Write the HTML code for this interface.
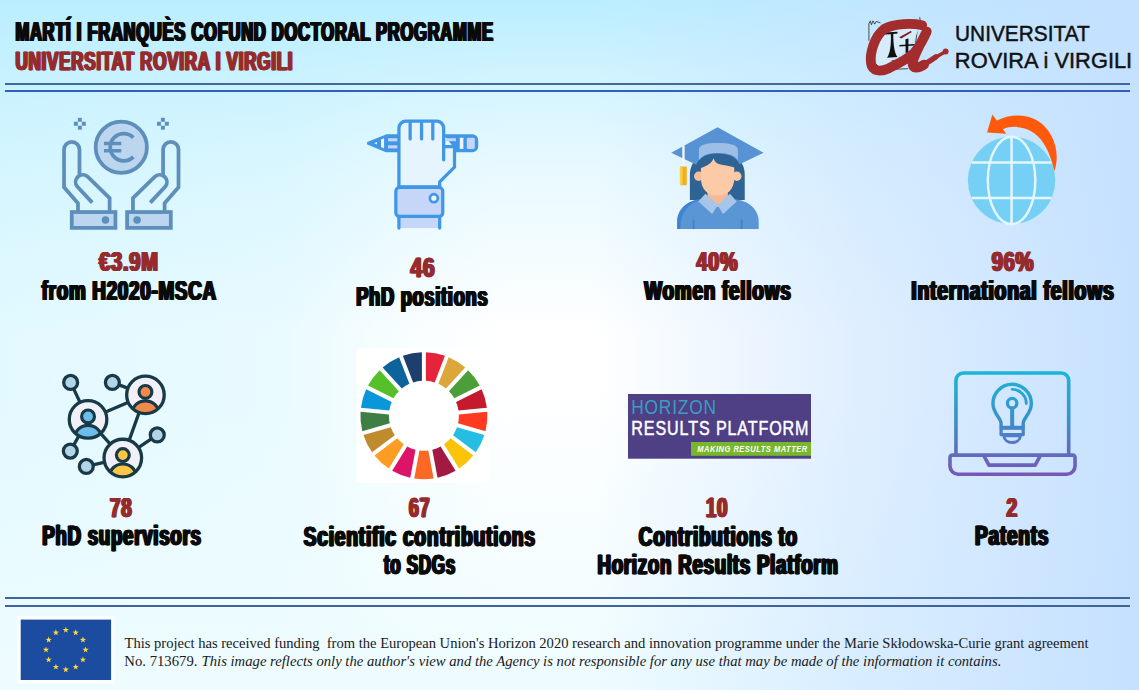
<!DOCTYPE html>
<html><head><meta charset="utf-8"><title>Martí i Franquès COFUND</title>
<style>
html,body{margin:0;padding:0;}
body{width:1139px;height:690px;overflow:hidden;font-family:"Liberation Sans",sans-serif;
background-color:#ffffff;
background-image:
 linear-gradient(to left, rgba(196,224,255,0.97) 0px, rgba(196,224,255,0.53) 284px, rgba(196,224,255,0) 545px),
 linear-gradient(to bottom, rgba(186,238,255,1) 0px, rgba(186,238,255,0.55) 104px, rgba(186,238,255,0.32) 172px, rgba(186,238,255,0) 334px),
 linear-gradient(to top, rgba(238,252,255,1) 0px, rgba(238,252,255,0) 300px),
 linear-gradient(to right, rgba(226,249,255,1) 0px, rgba(226,249,255,0.75) 282px, rgba(226,249,255,0.25) 400px, rgba(226,249,255,0) 500px);
}
svg{position:absolute;left:0;top:0;}
text{white-space:pre;}
</style></head><body>
<svg width="1139" height="690" viewBox="0 0 1139 690">
<rect x="5" y="83" width="1125" height="2" fill="#3f68a4"/>
<rect x="5" y="90" width="1125" height="2" fill="#2f60c0"/>
<rect x="5" y="597" width="1125" height="2" fill="#41639b"/>
<rect x="5" y="605" width="1125" height="2" fill="#41639b"/>
<g transform="translate(15.43,40.80) scale(0.6173,1)" fill="#0a0a0a" stroke="#0a0a0a" stroke-width="0.25" font-family="Liberation Sans, sans-serif" font-weight="bold" font-size="26.74" letter-spacing="1.215" style="white-space:pre"><text x="-1.620" y="0" xml:space="preserve">MARTÍ I FRANQUÈS COFUND DOCTORAL PROGRAMME</text><text x="-0.810" y="0" xml:space="preserve">MARTÍ I FRANQUÈS COFUND DOCTORAL PROGRAMME</text><text x="0.000" y="0" xml:space="preserve">MARTÍ I FRANQUÈS COFUND DOCTORAL PROGRAMME</text><text x="0.810" y="0" xml:space="preserve">MARTÍ I FRANQUÈS COFUND DOCTORAL PROGRAMME</text><text x="1.620" y="0" xml:space="preserve">MARTÍ I FRANQUÈS COFUND DOCTORAL PROGRAMME</text></g>
<g transform="translate(15.48,69.90) scale(0.6435,1)" fill="#962b2e" stroke="#962b2e" stroke-width="0.25" font-family="Liberation Sans, sans-serif" font-weight="bold" font-size="26.45" letter-spacing="1.165" style="white-space:pre"><text x="-1.554" y="0" xml:space="preserve">UNIVERSITAT ROVIRA I VIRGILI</text><text x="-0.777" y="0" xml:space="preserve">UNIVERSITAT ROVIRA I VIRGILI</text><text x="0.000" y="0" xml:space="preserve">UNIVERSITAT ROVIRA I VIRGILI</text><text x="0.777" y="0" xml:space="preserve">UNIVERSITAT ROVIRA I VIRGILI</text><text x="1.554" y="0" xml:space="preserve">UNIVERSITAT ROVIRA I VIRGILI</text></g>
<g transform="translate(99.10,270.90) scale(0.7269,1)" fill="#962b2e" stroke="#962b2e" stroke-width="0.25" font-family="Liberation Sans, sans-serif" font-weight="bold" font-size="27.62" letter-spacing="1.032" style="white-space:pre"><text x="-1.376" y="0" xml:space="preserve">€3.9M</text><text x="-0.688" y="0" xml:space="preserve">€3.9M</text><text x="0.000" y="0" xml:space="preserve">€3.9M</text><text x="0.688" y="0" xml:space="preserve">€3.9M</text><text x="1.376" y="0" xml:space="preserve">€3.9M</text></g>
<g transform="translate(41.62,299.50) scale(0.6808,1)" fill="#0a0a0a" stroke="#0a0a0a" stroke-width="0.25" font-family="Liberation Sans, sans-serif" font-weight="bold" font-size="27.62" letter-spacing="1.102" style="white-space:pre"><text x="-1.469" y="0" xml:space="preserve">from H2020-MSCA</text><text x="-0.734" y="0" xml:space="preserve">from H2020-MSCA</text><text x="0.000" y="0" xml:space="preserve">from H2020-MSCA</text><text x="0.734" y="0" xml:space="preserve">from H2020-MSCA</text><text x="1.469" y="0" xml:space="preserve">from H2020-MSCA</text></g>
<g transform="translate(410.59,276.90) scale(0.7532,1)" fill="#962b2e" stroke="#962b2e" stroke-width="0.25" font-family="Liberation Sans, sans-serif" font-weight="bold" font-size="27.62" letter-spacing="0.996" style="white-space:pre"><text x="-1.328" y="0" xml:space="preserve">46</text><text x="-0.664" y="0" xml:space="preserve">46</text><text x="0.000" y="0" xml:space="preserve">46</text><text x="0.664" y="0" xml:space="preserve">46</text><text x="1.328" y="0" xml:space="preserve">46</text></g>
<g transform="translate(356.22,305.70) scale(0.6661,1)" fill="#0a0a0a" stroke="#0a0a0a" stroke-width="0.25" font-family="Liberation Sans, sans-serif" font-weight="bold" font-size="27.33" letter-spacing="1.126" style="white-space:pre"><text x="-1.501" y="0" xml:space="preserve">PhD positions</text><text x="-0.751" y="0" xml:space="preserve">PhD positions</text><text x="0.000" y="0" xml:space="preserve">PhD positions</text><text x="0.751" y="0" xml:space="preserve">PhD positions</text><text x="1.501" y="0" xml:space="preserve">PhD positions</text></g>
<g transform="translate(696.61,270.90) scale(0.7094,1)" fill="#962b2e" stroke="#962b2e" stroke-width="0.25" font-family="Liberation Sans, sans-serif" font-weight="bold" font-size="27.62" letter-spacing="1.057" style="white-space:pre"><text x="-1.410" y="0" xml:space="preserve">40%</text><text x="-0.705" y="0" xml:space="preserve">40%</text><text x="0.000" y="0" xml:space="preserve">40%</text><text x="0.705" y="0" xml:space="preserve">40%</text><text x="1.410" y="0" xml:space="preserve">40%</text></g>
<g transform="translate(644.20,299.50) scale(0.6861,1)" fill="#0a0a0a" stroke="#0a0a0a" stroke-width="0.25" font-family="Liberation Sans, sans-serif" font-weight="bold" font-size="27.62" letter-spacing="1.093" style="white-space:pre"><text x="-1.458" y="0" xml:space="preserve">Women fellows</text><text x="-0.729" y="0" xml:space="preserve">Women fellows</text><text x="0.000" y="0" xml:space="preserve">Women fellows</text><text x="0.729" y="0" xml:space="preserve">Women fellows</text><text x="1.458" y="0" xml:space="preserve">Women fellows</text></g>
<g transform="translate(991.70,270.90) scale(0.7279,1)" fill="#962b2e" stroke="#962b2e" stroke-width="0.25" font-family="Liberation Sans, sans-serif" font-weight="bold" font-size="27.62" letter-spacing="1.030" style="white-space:pre"><text x="-1.374" y="0" xml:space="preserve">96%</text><text x="-0.687" y="0" xml:space="preserve">96%</text><text x="0.000" y="0" xml:space="preserve">96%</text><text x="0.687" y="0" xml:space="preserve">96%</text><text x="1.374" y="0" xml:space="preserve">96%</text></g>
<g transform="translate(911.34,299.50) scale(0.7022,1)" fill="#0a0a0a" stroke="#0a0a0a" stroke-width="0.25" font-family="Liberation Sans, sans-serif" font-weight="bold" font-size="27.62" letter-spacing="1.068" style="white-space:pre"><text x="-1.424" y="0" xml:space="preserve">International fellows</text><text x="-0.712" y="0" xml:space="preserve">International fellows</text><text x="0.000" y="0" xml:space="preserve">International fellows</text><text x="0.712" y="0" xml:space="preserve">International fellows</text><text x="1.424" y="0" xml:space="preserve">International fellows</text></g>
<g transform="translate(110.05,516.70) scale(0.6881,1)" fill="#962b2e" stroke="#962b2e" stroke-width="0.25" font-family="Liberation Sans, sans-serif" font-weight="bold" font-size="27.18" letter-spacing="1.090" style="white-space:pre"><text x="-1.453" y="0" xml:space="preserve">78</text><text x="-0.727" y="0" xml:space="preserve">78</text><text x="0.000" y="0" xml:space="preserve">78</text><text x="0.727" y="0" xml:space="preserve">78</text><text x="1.453" y="0" xml:space="preserve">78</text></g>
<g transform="translate(42.19,545.40) scale(0.6940,1)" fill="#0a0a0a" stroke="#0a0a0a" stroke-width="0.25" font-family="Liberation Sans, sans-serif" font-weight="bold" font-size="26.89" letter-spacing="1.081" style="white-space:pre"><text x="-1.441" y="0" xml:space="preserve">PhD supervisors</text><text x="-0.720" y="0" xml:space="preserve">PhD supervisors</text><text x="0.000" y="0" xml:space="preserve">PhD supervisors</text><text x="0.720" y="0" xml:space="preserve">PhD supervisors</text><text x="1.441" y="0" xml:space="preserve">PhD supervisors</text></g>
<g transform="translate(409.08,516.90) scale(0.6487,1)" fill="#962b2e" stroke="#962b2e" stroke-width="0.25" font-family="Liberation Sans, sans-serif" font-weight="bold" font-size="27.18" letter-spacing="1.156" style="white-space:pre"><text x="-1.541" y="0" xml:space="preserve">67</text><text x="-0.771" y="0" xml:space="preserve">67</text><text x="0.000" y="0" xml:space="preserve">67</text><text x="0.771" y="0" xml:space="preserve">67</text><text x="1.541" y="0" xml:space="preserve">67</text></g>
<g transform="translate(303.62,545.50) scale(0.7173,1)" fill="#0a0a0a" stroke="#0a0a0a" stroke-width="0.25" font-family="Liberation Sans, sans-serif" font-weight="bold" font-size="26.89" letter-spacing="1.046" style="white-space:pre"><text x="-1.394" y="0" xml:space="preserve">Scientific contributions</text><text x="-0.697" y="0" xml:space="preserve">Scientific contributions</text><text x="0.000" y="0" xml:space="preserve">Scientific contributions</text><text x="0.697" y="0" xml:space="preserve">Scientific contributions</text><text x="1.394" y="0" xml:space="preserve">Scientific contributions</text></g>
<g transform="translate(383.93,574.00) scale(0.6292,1)" fill="#0a0a0a" stroke="#0a0a0a" stroke-width="0.25" font-family="Liberation Sans, sans-serif" font-weight="bold" font-size="26.89" letter-spacing="1.192" style="white-space:pre"><text x="-1.589" y="0" xml:space="preserve">to SDGs</text><text x="-0.795" y="0" xml:space="preserve">to SDGs</text><text x="0.000" y="0" xml:space="preserve">to SDGs</text><text x="0.795" y="0" xml:space="preserve">to SDGs</text><text x="1.589" y="0" xml:space="preserve">to SDGs</text></g>
<g transform="translate(705.87,516.90) scale(0.6903,1)" fill="#962b2e" stroke="#962b2e" stroke-width="0.25" font-family="Liberation Sans, sans-serif" font-weight="bold" font-size="27.18" letter-spacing="1.086" style="white-space:pre"><text x="-1.449" y="0" xml:space="preserve">10</text><text x="-0.724" y="0" xml:space="preserve">10</text><text x="0.000" y="0" xml:space="preserve">10</text><text x="0.724" y="0" xml:space="preserve">10</text><text x="1.449" y="0" xml:space="preserve">10</text></g>
<g transform="translate(638.84,545.50) scale(0.7029,1)" fill="#0a0a0a" stroke="#0a0a0a" stroke-width="0.25" font-family="Liberation Sans, sans-serif" font-weight="bold" font-size="26.89" letter-spacing="1.067" style="white-space:pre"><text x="-1.423" y="0" xml:space="preserve">Contributions to</text><text x="-0.711" y="0" xml:space="preserve">Contributions to</text><text x="0.000" y="0" xml:space="preserve">Contributions to</text><text x="0.711" y="0" xml:space="preserve">Contributions to</text><text x="1.423" y="0" xml:space="preserve">Contributions to</text></g>
<g transform="translate(597.38,574.00) scale(0.6955,1)" fill="#0a0a0a" stroke="#0a0a0a" stroke-width="0.25" font-family="Liberation Sans, sans-serif" font-weight="bold" font-size="26.89" letter-spacing="1.078" style="white-space:pre"><text x="-1.438" y="0" xml:space="preserve">Horizon Results Platform</text><text x="-0.719" y="0" xml:space="preserve">Horizon Results Platform</text><text x="0.000" y="0" xml:space="preserve">Horizon Results Platform</text><text x="0.719" y="0" xml:space="preserve">Horizon Results Platform</text><text x="1.438" y="0" xml:space="preserve">Horizon Results Platform</text></g>
<g transform="translate(1006.53,516.70) scale(0.7052,1)" fill="#962b2e" stroke="#962b2e" stroke-width="0.25" font-family="Liberation Sans, sans-serif" font-weight="bold" font-size="27.18" letter-spacing="1.064" style="white-space:pre"><text x="-1.418" y="0" xml:space="preserve">2</text><text x="-0.709" y="0" xml:space="preserve">2</text><text x="0.000" y="0" xml:space="preserve">2</text><text x="0.709" y="0" xml:space="preserve">2</text><text x="1.418" y="0" xml:space="preserve">2</text></g>
<g transform="translate(975.06,545.40) scale(0.7098,1)" fill="#0a0a0a" stroke="#0a0a0a" stroke-width="0.25" font-family="Liberation Sans, sans-serif" font-weight="bold" font-size="26.89" letter-spacing="1.057" style="white-space:pre"><text x="-1.409" y="0" xml:space="preserve">Patents</text><text x="-0.704" y="0" xml:space="preserve">Patents</text><text x="0.000" y="0" xml:space="preserve">Patents</text><text x="0.704" y="0" xml:space="preserve">Patents</text><text x="1.409" y="0" xml:space="preserve">Patents</text></g>
<text transform="translate(955.04,40.50) scale(0.9652,1)" fill="#111" stroke="#111" stroke-width="0.45" font-family="Liberation Sans, sans-serif" font-weight="normal" font-style="normal" font-size="21.60" xml:space="preserve">UNIVERSITAT</text>
<text transform="translate(954.85,68.10) scale(1.0128,1)" fill="#111" stroke="#111" stroke-width="0.45" font-family="Liberation Sans, sans-serif" font-weight="normal" font-style="normal" font-size="21.60" xml:space="preserve">ROVIRA i VIRGILI</text>
<text transform="translate(124.51,648.00) scale(0.9598,1)" fill="#1a1a1a" font-family="Liberation Serif, serif" font-weight="normal" font-style="normal" font-size="15.20" xml:space="preserve">This project has received funding  from the European Union's Horizon 2020 research and innovation programme under the Marie Skłodowska-Curie grant agreement</text>
<text transform="translate(124.36,666.10) scale(0.9676,1)" fill="#1a1a1a" font-family="Liberation Serif, serif" font-weight="normal" font-style="normal" font-size="15.20" xml:space="preserve">No. 713679.</text>
<text transform="translate(201.55,666.10) scale(0.9665,1)" fill="#1a1a1a" font-family="Liberation Serif, serif" font-weight="normal" font-style="italic" font-size="15.20" xml:space="preserve">This image reflects only the author's view and the Agency is not responsible for any use that may be made of the information it contains.</text>
<g transform="translate(55,110) scale(0.18829)" fill="none" stroke="#5d8fba" stroke-width="20" stroke-linejoin="miter"><g transform=""><path d="M122 540 L122 495 L48 410 L48 210 A41 41 0 0 1 130 210 L130 345" /><path d="M198 492 L118 406 A38 38 0 0 1 172 353 L290 468 L290 540" /><rect x="89" y="542" width="232" height="84" fill="#bcd6f0"/><circle cx="268" cy="584" r="20" fill="#5d8fba" stroke="none"/></g><g transform="translate(704,0) scale(-1,1)"><path d="M122 540 L122 495 L48 410 L48 210 A41 41 0 0 1 130 210 L130 345" /><path d="M198 492 L118 406 A38 38 0 0 1 172 353 L290 468 L290 540" /><rect x="89" y="542" width="232" height="84" fill="#bcd6f0"/><circle cx="268" cy="584" r="20" fill="#5d8fba" stroke="none"/></g><circle cx="352" cy="198" r="136" fill="#bcd6f0"/><path d="M416 147 A72 72 0 1 0 416 249" stroke-width="20"/><path d="M260 178 H352 M260 216 H352" stroke-width="19"/><rect x="121.5" y="41.5" width="21" height="21" fill="#5d8fba" stroke="none"/><rect x="100.5" y="62.5" width="21" height="21" fill="#5d8fba" stroke="none"/><rect x="142.5" y="62.5" width="21" height="21" fill="#5d8fba" stroke="none"/><rect x="121.5" y="83.5" width="21" height="21" fill="#5d8fba" stroke="none"/><rect x="562.5" y="41.5" width="21" height="21" fill="#5d8fba" stroke="none"/><rect x="541.5" y="62.5" width="21" height="21" fill="#5d8fba" stroke="none"/><rect x="583.5" y="62.5" width="21" height="21" fill="#5d8fba" stroke="none"/><rect x="562.5" y="83.5" width="21" height="21" fill="#5d8fba" stroke="none"/></g>
<g transform="translate(360,110) scale(0.18106)" fill="none" stroke="#3f97e6" stroke-width="18" stroke-linejoin="round" stroke-linecap="round"><path d="M215 143 H147 L47 184 L147 225 H215" fill="#3f97e6"/><path d="M116 163 L133 156 V212 L116 205 Z" fill="#f1f6fe" stroke="none"/><path d="M78 184 L94 177 V191 Z" fill="#e8f1fd" stroke="none"/><rect x="155" y="156" width="55" height="17" fill="#c5d6f8" stroke="none"/><rect x="155" y="195" width="55" height="17" fill="#c5d6f8" stroke="none"/><path d="M470 143 H620 A24 24 0 0 1 644 167 V201 A24 24 0 0 1 620 225 H530" fill="#3f97e6"/><rect x="590" y="153" width="44" height="62" rx="8" fill="#c5d6f8" stroke="none"/><rect x="551" y="153" width="20" height="62" fill="#eef3fd" stroke="none"/><rect x="472" y="156" width="58" height="16" fill="#c5d6f8" stroke="none"/><path d="M215 425 V100 A38 38 0 0 1 253 62 H424 A38 38 0 0 1 462 100 V202 H522 V315 L440 397 V425 Z" fill="#e6f4fd"/><path d="M277 72 V160 M340 72 V160 M402 72 V160 M462 200 V275"/><rect x="222" y="590" width="212" height="62" fill="#c5d6f8" stroke="none"/><path d="M215 590 V652 M440 590 V652"/><rect x="198" y="428" width="259" height="160" rx="20" fill="#c5d6f8"/><circle cx="408" cy="487" r="22" fill="#eef4fd" stroke-width="15"/></g>
<g transform="translate(660,115) scale(0.18109)" stroke="none"><path d="M165 470 V330 C165 250 230 205 318 205 C405 205 468 250 468 330 V470 Z" fill="#2f6393"/><path d="M95 630 V590 C95 520 150 470 230 465 H405 C490 470 545 520 545 590 V630 Z" fill="#5a96d5"/><path d="M95 630 V590 C95 520 150 470 230 465 H250 C170 475 115 520 112 630 Z" fill="#3f83d3"/><rect x="181" y="578" width="9" height="52" fill="#3f7fc4"/><rect x="446" y="578" width="9" height="52" fill="#3f7fc4"/><path d="M262 400 H375 V470 L318 510 L262 470 Z" fill="#f7b995"/><path d="M250 435 L212 478 L288 546 L320 497 Z" fill="#a5c5e9"/><path d="M386 435 L424 478 L348 546 L318 497 Z" fill="#a5c5e9"/><circle cx="214" cy="338" r="26" fill="#f9bf9c"/><circle cx="424" cy="338" r="26" fill="#fcc9a7"/><path d="M226 300 C226 250 260 235 318 235 C376 235 410 250 410 300 V350 C410 410 370 445 318 445 C266 445 226 410 226 350 Z" fill="#fdcaa8"/><path d="M175 330 C175 240 250 205 318 205 C390 205 460 240 460 330 C440 290 380 280 340 275 C310 270 300 255 296 238 C290 262 260 285 225 292 C200 298 185 310 175 330 Z" fill="#2f6393"/><path d="M318 68 L572 208 L440 272 C420 230 380 212 318 212 C256 212 216 232 200 275 L62 208 Z" fill="#5793d4"/><path d="M215 250 V190 C215 165 260 155 318 155 C380 155 430 165 430 190 V248 C405 218 370 210 318 210 C262 210 235 222 215 250 Z" fill="#9dbfe7"/><rect x="123" y="170" width="13" height="120" fill="#f4f7fb"/><rect x="110" y="284" width="38" height="104" rx="6" fill="#f1ae1e"/><rect x="110" y="284" width="14" height="104" rx="6" fill="#f8cf45"/></g>
<g transform="translate(955,105) scale(0.18854)"><circle cx="300" cy="400" r="232" fill="#76d0f6"/><g fill="none" stroke="#e4f6fe" stroke-width="13"><path d="M300 168 V632"/><ellipse cx="300" cy="400" rx="126" ry="232"/><path d="M88 305 H512 M88 493 H512"/></g><path d="M198 50 L170 146 L272 152 L254 128 C330 98 420 125 468 200 C500 250 515 300 527 352 C562 250 522 132 432 80 C362 42 282 52 222 82 Z" fill="#ff5a0c"/></g>
<g transform="translate(55,365) scale(0.17391)" stroke="#183a47" stroke-width="19" fill="none" stroke-linecap="round"><path d="M90 100 L190 313"/><path d="M330 100 L520 172"/><path d="M190 313 L520 172"/><path d="M190 313 L390 535"/><path d="M520 172 L390 535"/><path d="M390 535 L588 402"/><path d="M190 313 L88 495"/><path d="M390 535 L180 583"/><circle cx="90" cy="100" r="40" fill="#b4d5e8"/><circle cx="330" cy="100" r="40" fill="#b4d5e8"/><circle cx="588" cy="402" r="40" fill="#b4d5e8"/><circle cx="88" cy="495" r="40" fill="#b4d5e8"/><circle cx="180" cy="583" r="40" fill="#b4d5e8"/><clipPath id="cp50"><circle cx="190" cy="313" r="108"/></clipPath><circle cx="190" cy="313" r="108" fill="#f1eff8" stroke="none"/><ellipse cx="190" cy="417" rx="76" ry="70" fill="#6cbde9" stroke-width="18" clip-path="url(#cp50)"/><circle cx="190" cy="296" r="37" fill="#6cbde9" stroke-width="18"/><circle cx="190" cy="313" r="108"/><clipPath id="cp51"><circle cx="520" cy="172" r="108"/></clipPath><circle cx="520" cy="172" r="108" fill="#f1eff8" stroke="none"/><ellipse cx="520" cy="276" rx="76" ry="70" fill="#f08a4b" stroke-width="18" clip-path="url(#cp51)"/><circle cx="520" cy="155" r="37" fill="#f08a4b" stroke-width="18"/><circle cx="520" cy="172" r="108"/><clipPath id="cp52"><circle cx="390" cy="535" r="108"/></clipPath><circle cx="390" cy="535" r="108" fill="#f1eff8" stroke="none"/><ellipse cx="390" cy="639" rx="76" ry="70" fill="#fcc746" stroke-width="18" clip-path="url(#cp52)"/><circle cx="390" cy="518" r="37" fill="#fcc746" stroke-width="18"/><circle cx="390" cy="535" r="108"/></g>
<rect x="356.7" y="348.5" width="133.3" height="134.3" fill="#ffffff"/>
<path d="M425.90 352.23 A63.5 63.5 0 0 1 444.96 355.79 L434.66 382.39 A35.0 35.0 0 0 0 425.90 380.76 Z" fill="#e5243b"/><path d="M448.69 357.24 A63.5 63.5 0 0 1 465.18 367.45 L445.96 388.53 A35.0 35.0 0 0 0 438.39 383.84 Z" fill="#dda63a"/><path d="M468.14 370.14 A63.5 63.5 0 0 1 479.82 385.62 L454.29 398.33 A35.0 35.0 0 0 0 448.92 391.22 Z" fill="#4c9f38"/><path d="M481.61 389.20 A63.5 63.5 0 0 1 486.91 407.85 L458.51 410.48 A35.0 35.0 0 0 0 456.07 401.91 Z" fill="#c5192d"/><path d="M487.28 411.84 A63.5 63.5 0 0 1 485.49 431.15 L458.06 423.34 A35.0 35.0 0 0 0 458.88 414.47 Z" fill="#ff3a21"/><path d="M484.40 434.99 A63.5 63.5 0 0 1 475.75 452.35 L452.99 435.16 A35.0 35.0 0 0 0 456.96 427.19 Z" fill="#26bde2"/><path d="M473.34 455.54 A63.5 63.5 0 0 1 459.01 468.61 L444.00 444.36 A35.0 35.0 0 0 0 450.58 438.35 Z" fill="#fcc30b"/><path d="M455.61 470.71 A63.5 63.5 0 0 1 437.53 477.72 L432.29 449.68 A35.0 35.0 0 0 0 440.59 446.46 Z" fill="#a21942"/><path d="M433.60 478.46 A63.5 63.5 0 0 1 414.20 478.46 L419.45 450.42 A35.0 35.0 0 0 0 428.35 450.42 Z" fill="#fd6925"/><path d="M410.27 477.72 A63.5 63.5 0 0 1 392.19 470.71 L407.21 446.46 A35.0 35.0 0 0 0 415.51 449.68 Z" fill="#dd1367"/><path d="M388.79 468.61 A63.5 63.5 0 0 1 374.46 455.54 L397.22 438.35 A35.0 35.0 0 0 0 403.80 444.36 Z" fill="#fd9d24"/><path d="M372.05 452.35 A63.5 63.5 0 0 1 363.40 434.99 L390.84 427.19 A35.0 35.0 0 0 0 394.81 435.16 Z" fill="#bf8b2e"/><path d="M362.31 431.15 A63.5 63.5 0 0 1 360.52 411.84 L388.92 414.47 A35.0 35.0 0 0 0 389.74 423.34 Z" fill="#3f7e44"/><path d="M360.89 407.85 A63.5 63.5 0 0 1 366.19 389.20 L391.73 401.91 A35.0 35.0 0 0 0 389.29 410.48 Z" fill="#0a97d9"/><path d="M367.98 385.62 A63.5 63.5 0 0 1 379.66 370.14 L398.88 391.22 A35.0 35.0 0 0 0 393.51 398.33 Z" fill="#56c02b"/><path d="M382.62 367.45 A63.5 63.5 0 0 1 399.11 357.24 L409.41 383.84 A35.0 35.0 0 0 0 401.84 388.53 Z" fill="#0f639c"/><path d="M402.84 355.79 A63.5 63.5 0 0 1 421.90 352.23 L421.90 380.76 A35.0 35.0 0 0 0 413.14 382.39 Z" fill="#1d3f6e"/>
<rect x="628" y="394" width="183" height="64.7" fill="#4f3f84"/>
<rect x="691" y="442" width="120" height="13.8" fill="#77b62d"/>
<text transform="translate(631.21,414.00) scale(0.8546,1)" fill="#3b9dc2" letter-spacing="0.936" font-family="Liberation Sans, sans-serif" font-weight="normal" font-style="normal" font-size="20.30" xml:space="preserve">HORIZON</text>
<text transform="translate(631.31,435.00) scale(0.7921,1)" fill="#ffffff" stroke="#ffffff" stroke-width="0.5" letter-spacing="1.136" font-family="Liberation Sans, sans-serif" font-weight="normal" font-style="normal" font-size="20.30" xml:space="preserve">RESULTS PLATFORM</text>
<text transform="translate(697.35,452.40) scale(0.8356,1)" fill="#ffffff" letter-spacing="0.598" font-family="Liberation Sans, sans-serif" font-weight="bold" font-style="italic" font-size="9.00" xml:space="preserve">MAKING RESULTS MATTER</text>
<defs><linearGradient id="lg8" gradientUnits="userSpaceOnUse" x1="0" y1="60" x2="0" y2="640"><stop offset="0" stop-color="#1ab6d9"/><stop offset="0.5" stop-color="#3f8cc8"/><stop offset="1" stop-color="#7a55b4"/></linearGradient></defs>
<g transform="translate(940,360) scale(0.18126)" fill="none" stroke="url(#lg8)" stroke-width="20" stroke-linecap="round" stroke-linejoin="round"><path d="M88 522 V112 A40 40 0 0 1 128 72 H670 A40 40 0 0 1 710 112 V522"/><path d="M68 525 H732 A13 13 0 0 1 745 538 V585 A45 45 0 0 1 700 630 H100 A45 45 0 0 1 55 585 V538 A13 13 0 0 1 68 525 Z"/><path d="M243 530 L270 580 H525 L552 530"/><path d="M337 372 V350 C337 320 292 295 292 240 A106 106 0 0 1 504 240 C504 295 459 320 459 350 V372 Z" stroke-width="19"/><path d="M337 376 H459 V412 H337 Z" stroke-width="18"/><path d="M352 418 H444 C440 468 356 468 352 418 Z" stroke-width="16"/><circle cx="398" cy="238" r="26" stroke-width="18"/><path d="M398 266 V370" stroke-width="22" stroke-linecap="butt"/><path d="M398 162 A78 78 0 0 1 476 240" stroke-width="16"/></g>
<rect x="17.5" y="616" width="97" height="67.5" fill="#ffffff" opacity="0.75"/>
<rect x="20.7" y="619.6" width="90.4" height="60.4" fill="#1b4ca0"/>
<polygon points="65.80,626.70 66.56,628.95 68.94,628.98 67.04,630.40 67.74,632.67 65.80,631.30 63.86,632.67 64.56,630.40 62.66,628.98 65.04,628.95" fill="#ffd93a"/><polygon points="75.70,629.35 76.46,631.60 78.84,631.63 76.94,633.05 77.64,635.32 75.70,633.95 73.76,635.32 74.46,633.05 72.56,631.63 74.94,631.60" fill="#ffd93a"/><polygon points="82.95,636.60 83.71,638.85 86.09,638.88 84.18,640.30 84.89,642.57 82.95,641.20 81.01,642.57 81.71,640.30 79.81,638.88 82.18,638.85" fill="#ffd93a"/><polygon points="85.60,646.50 86.36,648.75 88.74,648.78 86.84,650.20 87.54,652.47 85.60,651.10 83.66,652.47 84.36,650.20 82.46,648.78 84.84,648.75" fill="#ffd93a"/><polygon points="82.95,656.40 83.71,658.65 86.09,658.68 84.18,660.10 84.89,662.37 82.95,661.00 81.01,662.37 81.71,660.10 79.81,658.68 82.18,658.65" fill="#ffd93a"/><polygon points="75.70,663.65 76.46,665.90 78.84,665.93 76.94,667.35 77.64,669.62 75.70,668.25 73.76,669.62 74.46,667.35 72.56,665.93 74.94,665.90" fill="#ffd93a"/><polygon points="65.80,666.30 66.56,668.55 68.94,668.58 67.04,670.00 67.74,672.27 65.80,670.90 63.86,672.27 64.56,670.00 62.66,668.58 65.04,668.55" fill="#ffd93a"/><polygon points="55.90,663.65 56.66,665.90 59.04,665.93 57.14,667.35 57.84,669.62 55.90,668.25 53.96,669.62 54.66,667.35 52.76,665.93 55.14,665.90" fill="#ffd93a"/><polygon points="48.65,656.40 49.42,658.65 51.79,658.68 49.89,660.10 50.59,662.37 48.65,661.00 46.71,662.37 47.42,660.10 45.51,658.68 47.89,658.65" fill="#ffd93a"/><polygon points="46.00,646.50 46.76,648.75 49.14,648.78 47.24,650.20 47.94,652.47 46.00,651.10 44.06,652.47 44.76,650.20 42.86,648.78 45.24,648.75" fill="#ffd93a"/><polygon points="48.65,636.60 49.42,638.85 51.79,638.88 49.89,640.30 50.59,642.57 48.65,641.20 46.71,642.57 47.42,640.30 45.51,638.88 47.89,638.85" fill="#ffd93a"/><polygon points="55.90,629.35 56.66,631.60 59.04,631.63 57.14,633.05 57.84,635.32 55.90,633.95 53.96,635.32 54.66,633.05 52.76,631.63 55.14,631.60" fill="#ffd93a"/>
<g transform="translate(860,10) scale(0.10870)" fill="none" stroke-linecap="round" stroke-linejoin="round"><g stroke="#1a1a1a" stroke-width="7"><path d="M82 280 V125 L95 100 L105 135 L120 100 L135 130 L150 105 L185 118"/><path d="M550 70 L556 112 M525 200 L512 300 M215 470 L335 463 M300 546 L440 540 M150 500 L190 535"/><circle cx="190" cy="305" r="14" stroke-width="6"/></g><path d="M230 170 C330 150 450 150 530 190 C500 320 330 470 170 520 C130 450 150 260 230 170 Z" fill="#d6ecfb" stroke="none"/><g stroke="none" fill="#111"><path d="M222 208 L345 200 L345 216 L306 220 C306 330 320 400 345 432 L248 440 C275 400 288 330 284 222 L222 226 Z"/><path d="M418 268 L446 262 L444 392 L420 396 Z"/><path d="M362 322 L502 312 L502 326 L362 336 Z"/><path d="M360 250 L470 190 L475 205 L380 262 Z" fill="#7a2020"/></g><path d="M572 140 C480 120 320 122 224 174 C134 240 86 400 102 495 C112 562 186 572 262 538 C340 500 440 452 500 392 C550 332 592 252 614 198 C568 292 492 420 484 488 C478 546 540 538 590 502" stroke="#a32c2c" stroke-width="90"/><path d="M540 525 C600 500 650 465 700 430" stroke="#a32c2c" stroke-width="48"/><path d="M680 445 C730 415 760 398 785 384" stroke="#a32c2c" stroke-width="34"/><circle cx="788" cy="382" r="27" fill="#a32c2c" stroke="none"/></g>
</svg>
</body></html>
